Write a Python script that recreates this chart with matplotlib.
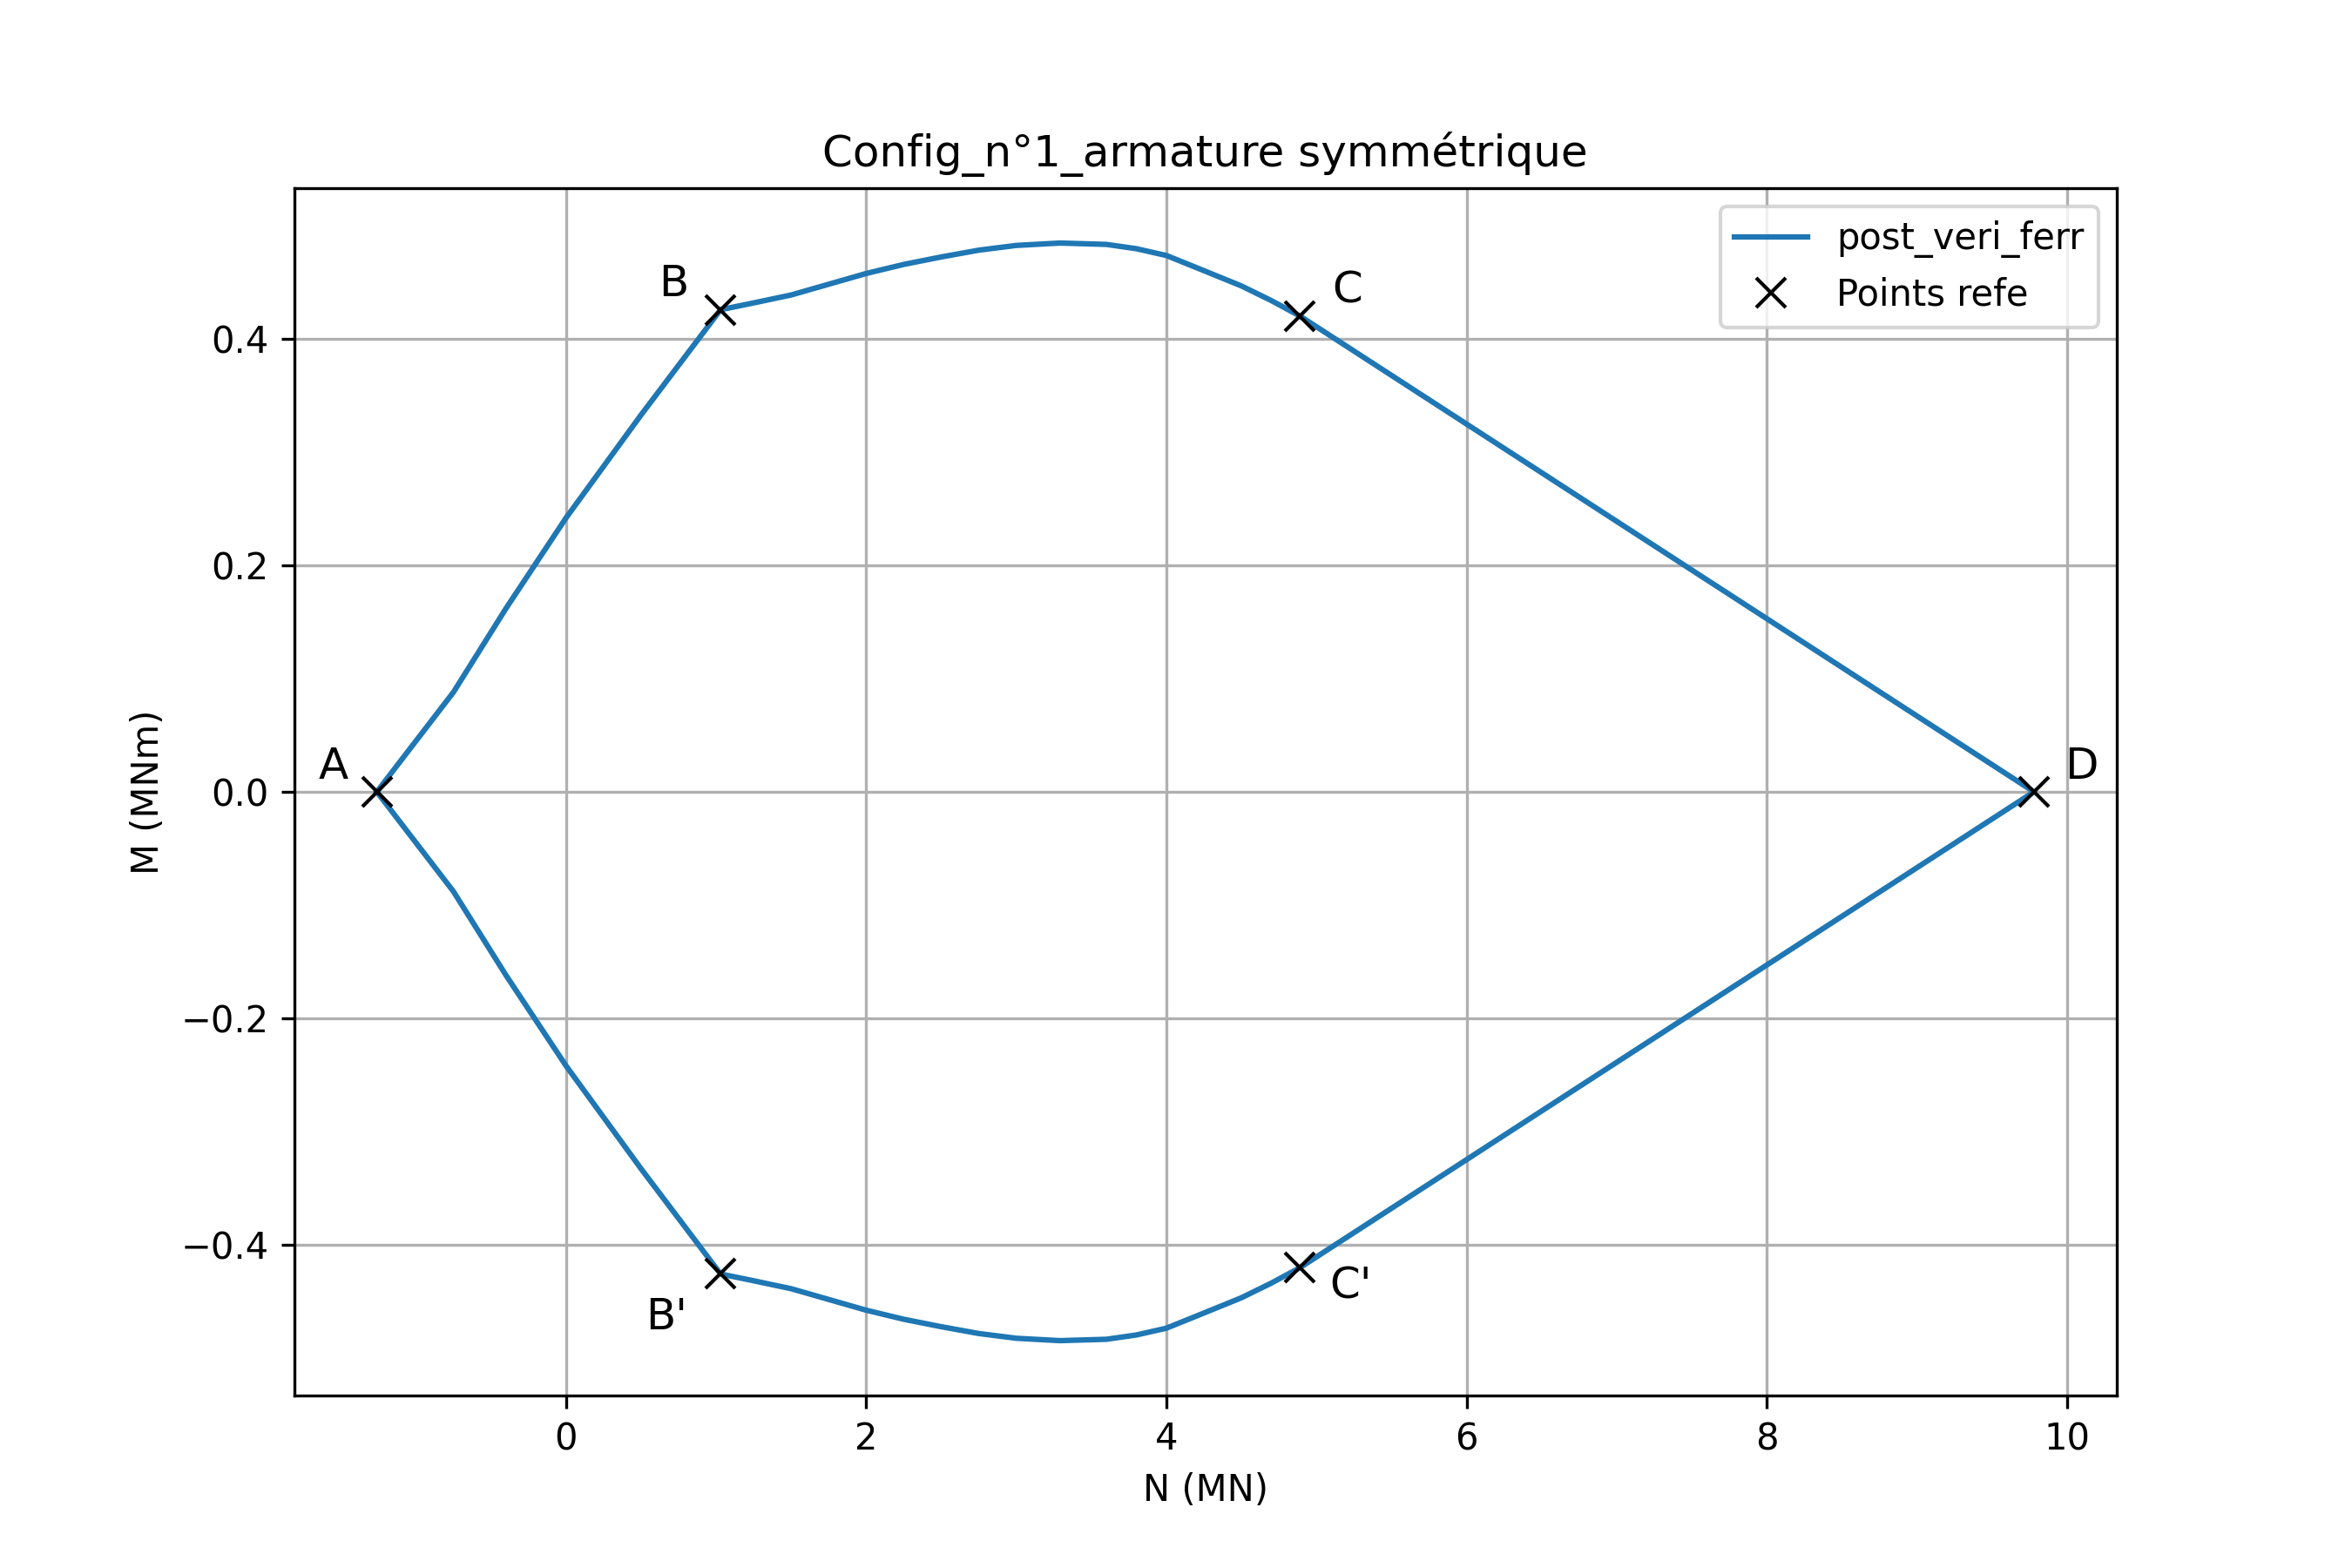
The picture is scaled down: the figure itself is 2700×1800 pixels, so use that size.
import matplotlib
matplotlib.use("Agg")
import matplotlib.pyplot as plt

# Interaction curve (N in MN, M in MNm)
curve_N = [-1.26, -0.75, -0.40, 0.00, 0.50, 1.03, 1.25, 1.50, 1.75, 2.00, 2.25, 2.50,
           2.75, 3.00, 3.29, 3.60, 3.80, 4.00, 4.25, 4.50, 4.70, 4.89, 9.78,
           4.89, 4.70, 4.50, 4.25, 4.00, 3.80, 3.60, 3.29, 3.00, 2.75, 2.50, 2.25,
           2.00, 1.75, 1.50, 1.25, 1.03, 0.50, 0.00, -0.40, -0.75, -1.26]
curve_M = [0.000, 0.088, 0.162, 0.242, 0.333, 0.426, 0.432, 0.439, 0.4485, 0.458, 0.466, 0.4726,
           0.4786, 0.4828, 0.4849, 0.4837, 0.4799, 0.4739, 0.4605, 0.447, 0.434, 0.4204, 0.000,
           -0.4204, -0.434, -0.447, -0.4605, -0.4739, -0.4799, -0.4837, -0.4849, -0.4828, -0.4786, -0.4726, -0.466,
           -0.458, -0.4485, -0.439, -0.432, -0.426, -0.333, -0.242, -0.162, -0.088, 0.000]

# Reference points
ref_labels = ["A", "B", "C", "D", "B'", "C'"]
ref_N = [-1.26, 1.03, 4.89, 9.78, 1.03, 4.89]
ref_M = [0.000, 0.426, 0.4204, 0.000, -0.426, -0.4204]
label_offsets = [(-12, 7), (-13, 7), (13, 7), (13, 7), (-15, -12), (14, -5)]

fig, ax = plt.subplots(figsize=(9, 6), dpi=300)
ax.plot(curve_N, curve_M, color="#1f77b4", lw=1.5, label="post_veri_ferr")
ax.plot(ref_N, ref_M, "x", color="black", ms=8, label="Points refe")
for lab, n, m, off in zip(ref_labels, ref_N, ref_M, label_offsets):
    ax.annotate(lab, (n, m), xytext=off, textcoords="offset points",
                ha="center", va="center", fontsize=12)

ax.set_title("Config_n°1_armature symmétrique")
ax.set_xlabel("N (MN)")
ax.set_ylabel("M (MNm)")
ax.grid(True)
ax.legend(loc="upper right")
fig.savefig("out.png", dpi=300)
